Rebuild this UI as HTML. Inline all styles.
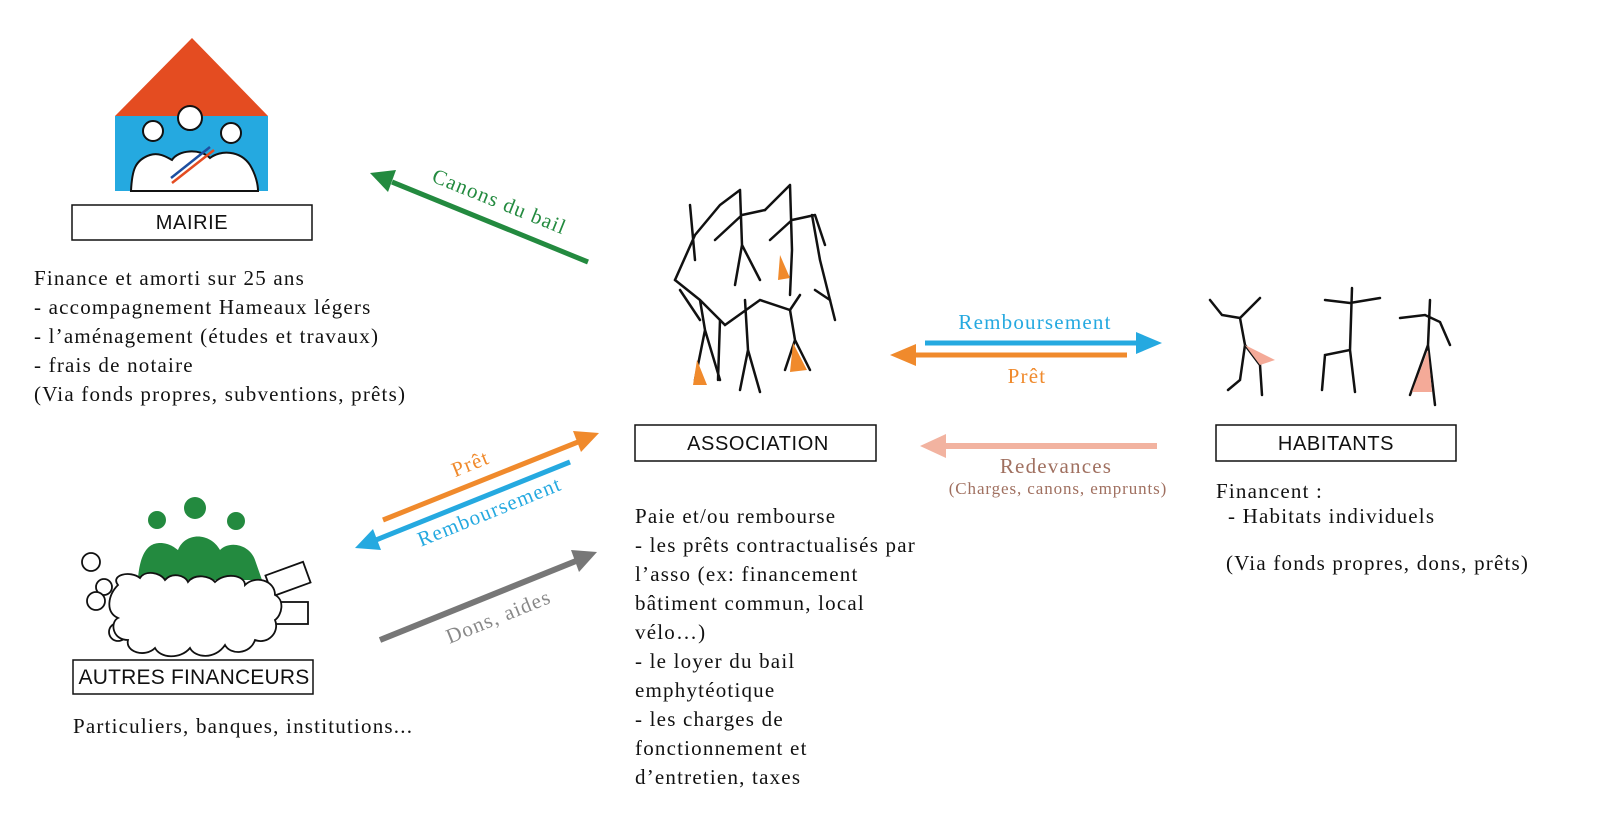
<!DOCTYPE html>
<html><head><meta charset="utf-8"><style>
html,body{margin:0;padding:0;background:#fff;width:1600px;height:813px;overflow:hidden}
svg{display:block}
text{font-family:"Liberation Serif",serif;font-size:21px;letter-spacing:1.2px}
.s{fill:#111}
.b{font-family:"Liberation Sans",sans-serif;font-size:20px;letter-spacing:0.6px;fill:#111}
</style></head><body>
<svg width="1600" height="813" viewBox="0 0 1600 813" xmlns="http://www.w3.org/2000/svg">
<!-- Mairie icon -->
<polygon points="192,38 115,116 268,116" fill="#e44c21"/>
<rect x="115" y="116" width="153" height="75" fill="#25a9e0"/>
<path d="M131,191 C132,170 135,160 150,155 C160,152 168,158 172,160 C178,150 200,148 210,158 C220,150 240,150 250,165 C256,175 258,185 258,191 Z" fill="#fff" stroke="#111" stroke-width="2"/>
<line x1="171" y1="178" x2="210" y2="147" stroke="#1d4fa0" stroke-width="2.5"/>
<line x1="172" y1="183" x2="214" y2="150" stroke="#e44c21" stroke-width="2.5"/>
<circle cx="153" cy="131" r="10" fill="#fff" stroke="#111" stroke-width="2"/>
<circle cx="190" cy="118" r="12" fill="#fff" stroke="#111" stroke-width="2"/>
<circle cx="231" cy="133" r="10" fill="#fff" stroke="#111" stroke-width="2"/>
<rect x="72" y="205" width="240" height="35" fill="#fff" stroke="#111" stroke-width="1.5"/>
<text class="b" x="192" y="229" text-anchor="middle">MAIRIE</text>
<text class="s" x="34" y="285">Finance et amorti sur 25 ans</text>
<text class="s" x="34" y="314">- accompagnement Hameaux légers</text>
<text class="s" x="34" y="343">- l’aménagement (études et travaux)</text>
<text class="s" x="34" y="372">- frais de notaire</text>
<text class="s" x="34" y="401">(Via fonds propres, subventions, prêts)</text>

<!-- green arrow -->
<line x1="588" y1="262" x2="392" y2="182" stroke="#238a3f" stroke-width="5"/>
<polygon points="370,173 396,170 388,192" fill="#238a3f"/>
<text x="497" y="208" transform="rotate(22 497 208)" text-anchor="middle" fill="#238a3f">Canons du bail</text>

<!-- Association stick figures -->
<g stroke="#111" stroke-width="2.5" fill="none" stroke-linecap="round">
<path d="M690,205 L695,260 M695,235 L675,280 M695,235 L720,205 L740,190 M740,190 L742,245 M742,215 L715,240 M742,215 L765,210 M742,245 L735,285 M742,245 L760,280"/>
<path d="M765,210 L790,185 M790,185 L792,250 M792,220 L770,240 M792,220 L815,215 M792,250 L790,295 M815,215 L825,245 M812,215 L820,260 M820,260 L835,320"/>
<path d="M675,280 L700,300 M700,300 L705,330 M705,330 L695,380 M705,330 L720,380 M700,300 L725,325 L760,300 L790,310 L800,295"/>
<path d="M745,300 L748,350 M748,350 L740,390 M748,350 L760,392 M790,310 L795,340 L785,370 M795,340 L810,370 M720,320 L718,380"/>
<path d="M680,290 L700,320 M815,290 L830,300"/>
</g>
<polygon points="780,255 790,278 778,280" fill="#f08a2c"/>
<polygon points="697,360 707,385 693,385" fill="#f08a2c"/>
<polygon points="793,343 807,370 790,372" fill="#f08a2c"/>
<rect x="635" y="425" width="241" height="36" fill="#fff" stroke="#111" stroke-width="1.5"/>
<text class="b" x="758" y="450" text-anchor="middle">ASSOCIATION</text>
<text class="s" x="635" y="523">Paie et/ou rembourse</text>
<text class="s" x="635" y="552">- les prêts contractualisés par</text>
<text class="s" x="635" y="581">l’asso (ex: financement</text>
<text class="s" x="635" y="610">bâtiment commun, local</text>
<text class="s" x="635" y="639">vélo…)</text>
<text class="s" x="635" y="668">- le loyer du bail</text>
<text class="s" x="635" y="697">emphytéotique</text>
<text class="s" x="635" y="726">- les charges de</text>
<text class="s" x="635" y="755">fonctionnement et</text>
<text class="s" x="635" y="784">d’entretien, taxes</text>

<!-- right arrows -->
<line x1="925" y1="343" x2="1140" y2="343" stroke="#25a9e0" stroke-width="5"/>
<polygon points="1162,343 1136,332 1136,354" fill="#25a9e0"/>
<text x="1035" y="329" text-anchor="middle" fill="#25a9e0">Remboursement</text>
<line x1="1127" y1="355" x2="912" y2="355" stroke="#f08a2c" stroke-width="5"/>
<polygon points="890,355 916,344 916,366" fill="#f08a2c"/>
<text x="1027" y="383" text-anchor="middle" fill="#f08a2c">Prêt</text>
<line x1="1157" y1="446" x2="942" y2="446" stroke="#f2b3a0" stroke-width="6"/>
<polygon points="920,446 946,434 946,458" fill="#f2b3a0"/>
<text x="1056" y="473" text-anchor="middle" fill="#a07060">Redevances</text>
<text x="1058" y="494" text-anchor="middle" fill="#a07060" style="font-size:17px;letter-spacing:0.9px">(Charges, canons, emprunts)</text>

<!-- Habitants figures -->
<g stroke="#111" stroke-width="2.5" fill="none" stroke-linecap="round">
<path d="M1210,300 L1222,315 L1240,318 L1260,298 M1240,318 L1245,345 L1240,380 L1228,390 M1245,345 L1260,365 L1262,395"/>
<path d="M1325,300 L1350,303 L1380,298 M1352,288 L1350,350 L1325,355 L1322,390 M1350,350 L1355,392"/>
<path d="M1400,318 L1425,315 L1440,322 L1450,345 M1430,300 L1428,345 L1410,395 M1428,345 L1435,405"/>
</g>
<polygon points="1245,345 1275,360 1260,365" fill="#f4aa98"/>
<polygon points="1428,350 1412,392 1432,392" fill="#f4aa98"/>
<rect x="1216" y="425" width="240" height="36" fill="#fff" stroke="#111" stroke-width="1.5"/>
<text class="b" x="1336" y="450" text-anchor="middle">HABITANTS</text>
<text class="s" x="1216" y="498">Financent :</text>
<text class="s" x="1228" y="523">- Habitats individuels</text>
<text class="s" x="1226" y="570">(Via fonds propres, dons,  prêts)</text>

<!-- left arrows -->
<line x1="383" y1="520" x2="578" y2="442" stroke="#f08a2c" stroke-width="5"/>
<polygon points="599,433 573,431 581,452" fill="#f08a2c"/>
<text x="473" y="470" transform="rotate(-22 473 470)" text-anchor="middle" fill="#f08a2c">Prêt</text>
<line x1="570" y1="462" x2="376" y2="540" stroke="#25a9e0" stroke-width="5"/>
<polygon points="355,548 381,550 373,529" fill="#25a9e0"/>
<text x="492" y="518" transform="rotate(-22 492 518)" text-anchor="middle" fill="#25a9e0">Remboursement</text>
<line x1="380" y1="640" x2="576" y2="561" stroke="#777" stroke-width="6"/>
<polygon points="597,552 571,550 579,572" fill="#777"/>
<text x="501" y="623" transform="rotate(-22 501 623)" text-anchor="middle" fill="#888">Dons, aides</text>

<!-- financeurs icon -->
<g fill="#238a3f">
<circle cx="157" cy="520" r="9"/><circle cx="195" cy="508" r="11"/><circle cx="236" cy="521" r="9"/>
<path d="M138,580 C140,550 150,543 160,543 C170,543 175,548 178,550 C185,532 210,532 220,550 C230,540 250,545 255,560 L262,580 Z"/>
</g>
<g fill="#fff" stroke="#111" stroke-width="1.8">
<rect x="268" y="568" width="40" height="22" transform="rotate(-20 288 579)"/>
<rect x="272" y="602" width="36" height="22"/>
<circle cx="91" cy="562" r="9"/><circle cx="104" cy="587" r="8"/><circle cx="96" cy="601" r="9"/><circle cx="118" cy="632" r="9"/>
<path d="M118,585 C110,575 130,570 140,578 C145,570 160,572 165,580 C172,572 185,575 188,582 C195,573 210,576 215,582 C225,572 245,575 245,585 C255,575 275,580 275,595 C285,600 282,615 275,620 C280,632 268,645 255,640 C250,655 230,655 225,645 C215,660 195,658 190,648 C180,660 160,658 155,648 C145,658 125,652 128,640 C112,640 110,622 118,618 C105,612 108,595 118,585 Z"/>
</g>
<rect x="73" y="660" width="240" height="34" fill="#fff" stroke="#111" stroke-width="1.5"/>
<text class="b" x="194" y="684" text-anchor="middle" style="font-size:21px;letter-spacing:0.2px">AUTRES FINANCEURS</text>
<text class="s" x="73" y="733">Particuliers, banques, institutions...</text>
</svg>
</body></html>
